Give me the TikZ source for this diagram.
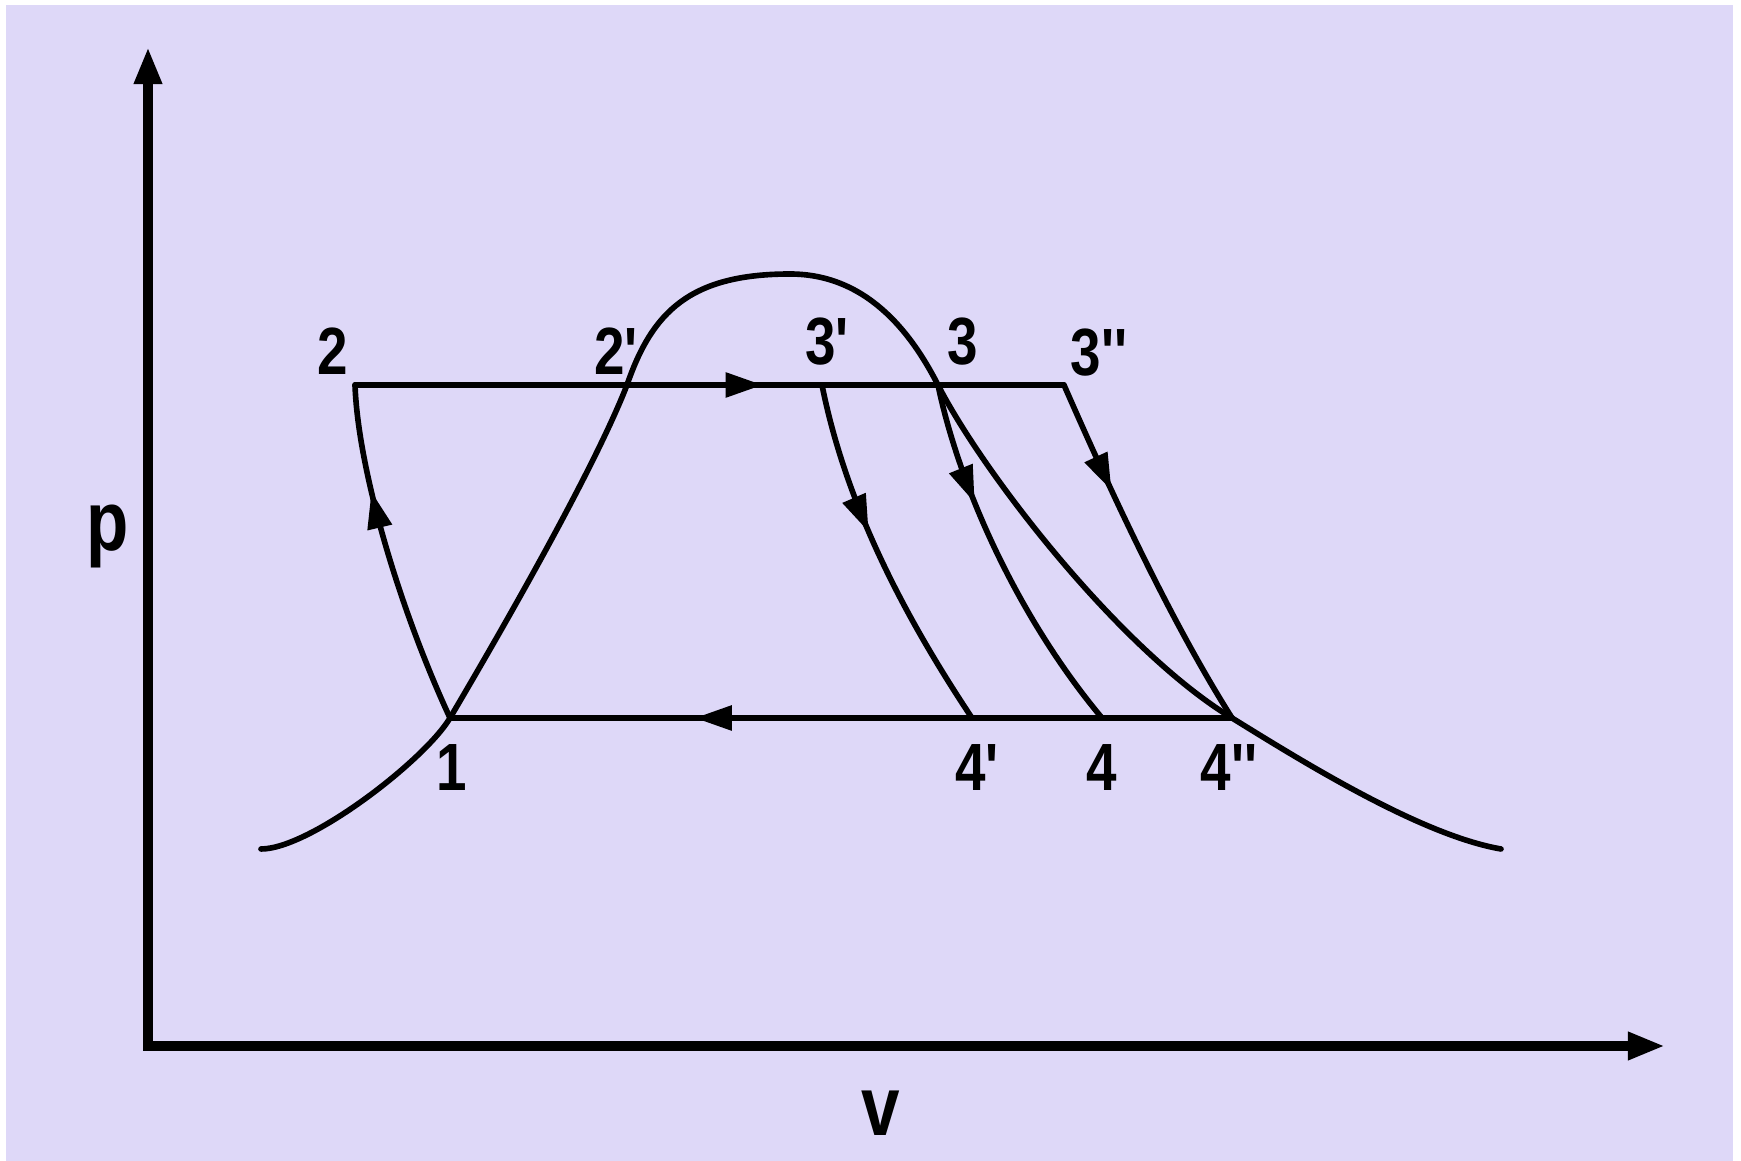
\documentclass[tikz,border=0pt]{standalone}
\usepackage{fontspec}
\newfontfamily\lblfont[FakeStretch=0.82]{Liberation Sans}
\usetikzlibrary{arrows.meta,decorations.markings}
\definecolor{bgcol}{RGB}{222,216,248}
\begin{document}
\begin{tikzpicture}[x=0.01cm,y=-0.01cm,
  curve/.style={line width=1.6pt, line join=round, line cap=round},
  axis/.style={line width=2.6pt, line join=miter,
    {Triangle[length=0.37cm,width=0.26cm]}-{Triangle[length=0.37cm,width=0.26cm]}},
  lbl/.style={font=\lblfont\bfseries\fontsize{19}{19}\selectfont, inner sep=0pt},
  axlbl/.style={font=\lblfont\bfseries\fontsize{24}{24}\selectfont, inner sep=0pt},
  midarrow/.style={postaction={decorate}, decoration={markings,
    mark=at position #1 with {\arrow{Triangle[length=0.37cm,width=0.24cm]}}}},
]
% page and background
\fill[white] (0,0) rectangle (1741,1161);
\fill[bgcol] (6,5) rectangle (1733,1161);
\useasboundingbox (0,0) rectangle (1741,1161);

% axes
\coordinate (O) at (148,1046);
\coordinate (Ytip) at (148,47);
\coordinate (Xtip) at (1665,1046);
\draw[axis] (Ytip) -- (O) -- (Xtip);
\node[axlbl] (plbl) at (108,536) {p};
\node[axlbl] (vlbl) at (881,1113) {v};

% state points
\coordinate (P1) at (450,718);
\coordinate (P2) at (355,385);
\coordinate (P2p) at (627,385);
\coordinate (P3p) at (822,385);
\coordinate (P3) at (938,385);
\coordinate (P3pp) at (1064,385);
\coordinate (P4p) at (972,718);
\coordinate (P4) at (1102,718);
\coordinate (P4pp) at (1232,718);
\coordinate (DL) at (261,849);
\coordinate (DT) at (790,274);
\coordinate (DR) at (1501,849);

% saturation dome
\draw[curve] (DL) .. controls (310,849) and (425,760) .. (P1)
  .. controls (480,667) and (590,480) .. (P2p)
  .. controls (652,312) and (690,274) .. (DT)
  .. controls (865,274) and (910,330) .. (P3)
  .. controls (983,473) and (1120,650) .. (P4pp)
  .. controls (1300,760) and (1420,835) .. (DR);

% pump 1 -> 2
\draw[curve, midarrow=0.69] (P1) .. controls (400,610) and (358,470) .. (P2);

% heat addition 2 -> 3''
\draw[curve, midarrow=0.575] (P2) -- (P3pp);

% condensation 4'' -> 1
\draw[curve, midarrow=0.687] (P4pp) -- (P1);

% expansions
\draw[curve, midarrow=0.42] (P3p) .. controls (845,500) and (900,610) .. (P4p);
\draw[curve, midarrow=0.33] (P3) .. controls (960,490) and (1020,620) .. (P4);
\draw[curve, midarrow=0.31] (P3pp) .. controls (1110,490) and (1170,620) .. (P4pp);

% labels
\node[lbl] (l2) at (333,351) {2};
\node[lbl] (l2p) at (616,351) {2'};
\node[lbl] (l3p) at (827,342) {3'};
\node[lbl] (l3) at (963,342) {3};
\node[lbl] (l3pp) at (1099,353) {3''};
\node[lbl] (l1) at (452,768) {1};
\node[lbl] (l4p) at (977,768) {4'};
\node[lbl] (l4) at (1102,768) {4};
\node[lbl] (l4pp) at (1229,768) {4''};
\end{tikzpicture}
\end{document}
